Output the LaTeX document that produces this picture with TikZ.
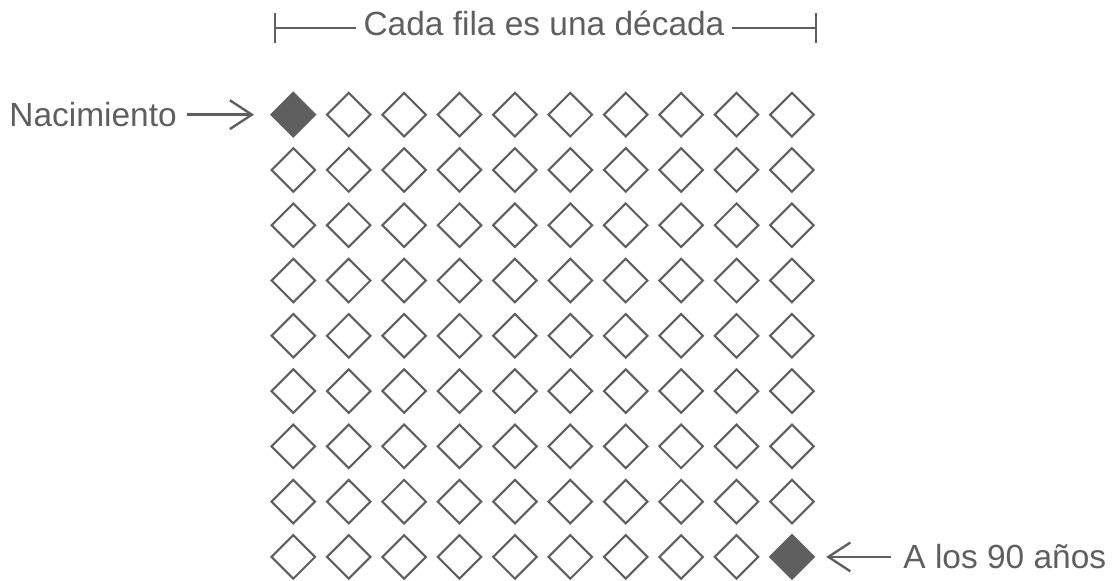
\documentclass[tikz,border=0pt]{standalone}
\usepackage{fontspec}
\setmainfont{Liberation Sans}
\usetikzlibrary{positioning,shapes.geometric,arrows.meta}
\definecolor{ink}{RGB}{95,95,95}
\tikzset{
	cell/.style={diamond,draw=ink,line width=1.5pt,minimum width=1.11cm,minimum height=1.11cm,inner sep=0pt,aspect=1},
	cell 1/.style={fill=ink},
	cell 90/.style={fill=ink},
	lbl/.style={text=ink,inner sep=0pt,font=\fontsize{23.8pt}{28pt}\selectfont},
	pointer/.style={draw=ink,line width=1.7pt,-{Straight Barb[length=0.55cm,width=0.72cm]}}
}
\begin{document}
\begin{tikzpicture}
	\useasboundingbox (0,0) rectangle (27.875,14.525);
	\foreach \r in {1,...,9}
		\foreach \c in {1,...,10} {
			\pgfmathtruncatemacro\k{(\r-1)*10+\c}
			\node[cell,cell \k/.try] (d-\r-\c) at ({7.333+(\c-1)*1.385},{11.658-(\r-1)*1.382}) {};
		}
	\node[lbl,anchor=base] (title) at (13.6,13.625) {Cada fila es una década};
	\coordinate (lbar) at (6.85,13.82);
	\coordinate (rbar) at (20.425,13.82);
	\draw[ink,line width=1.7pt,{Bar[width=0.75cm]}-,shorten >=0.175cm] (lbar) -- (lbar -| title.west);
	\draw[ink,line width=1.7pt,-{Bar[width=0.75cm]},shorten <=0.175cm] (rbar -| title.east) -- (rbar);
	\node[lbl,left=2.325cm of d-1-1] (birth) {Nacimiento};
	\draw[pointer,shorten <=0.25cm,shorten >=0.4cm] (birth) -- (d-1-1);
	\node[lbl,right=2.2cm of d-9-10] (ninety) {A los 90 años};
	\draw[pointer,shorten <=0.3cm,shorten >=0.275cm] (ninety) -- (d-9-10);
\end{tikzpicture}
\end{document}
